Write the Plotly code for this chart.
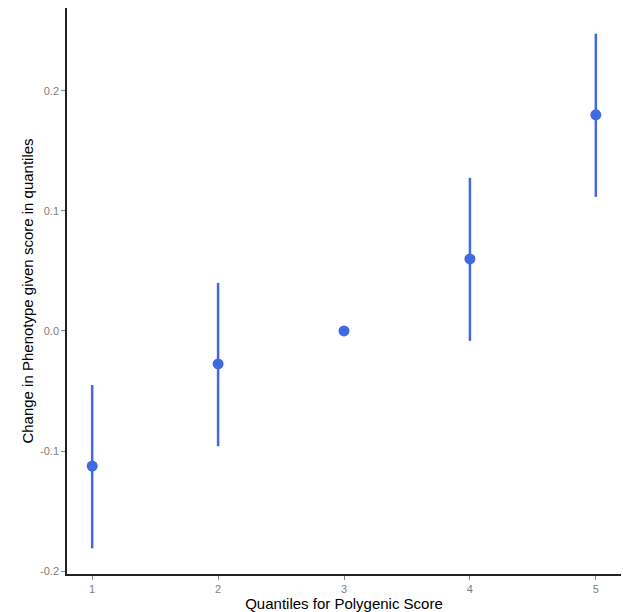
import plotly.graph_objects as go

# Quantile estimates with confidence limits
quantiles = [1, 2, 3, 4, 5]
estimate = [-0.1125, -0.0275, 0.0, 0.060, 0.180]
upper = [-0.045, 0.040, 0.0, 0.1275, 0.2475]
lower = [-0.181, -0.096, 0.0, -0.0083, 0.1117]

err_plus = [u - e for u, e in zip(upper, estimate)]
err_minus = [e - l for e, l in zip(estimate, lower)]

color = "#4169E1"

fig = go.Figure()
fig.add_trace(go.Scatter(
    x=quantiles, y=estimate, mode="markers",
    marker=dict(color=color, size=11),
    error_y=dict(type="data", symmetric=False, array=err_plus, arrayminus=err_minus,
                 color=color, thickness=2.5, width=0),
    showlegend=False,
))

ymin = min(lower); ymax = max(upper)
pad = (ymax - ymin) * 0.05

fig.update_layout(
    width=623, height=612,
    margin=dict(l=67, r=2, t=8, b=38),
    plot_bgcolor="white", paper_bgcolor="white",
    font=dict(family="Liberation Sans, Arial, sans-serif"),
    xaxis=dict(range=[0.8, 5.2], tickvals=quantiles, ticktext=[str(q) for q in quantiles],
               showgrid=False, zeroline=False, showline=True, linecolor="#222222", linewidth=1.5,
               ticks="outside", ticklen=4, tickcolor="#888888", tickwidth=1,
               tickfont=dict(size=11, color="#808080"),
               title=dict(text="Quantiles for Polygenic Score", font=dict(size=15, color="black"), standoff=4)),
    yaxis=dict(range=[ymin - pad, ymax + pad], tickvals=[-0.2, -0.1, 0.0, 0.1, 0.2],
               ticktext=["-0.2", "-0.1", "0.0", "0.1", "0.2"],
               showgrid=False, zeroline=False, showline=True, linecolor="#222222", linewidth=1.5,
               ticks="outside", ticklen=4, tickcolor="#888888", tickwidth=1,
               tickfont=dict(size=11, color="#808080"),
               title=dict(text="Change in Phenotype given score in quantiles", font=dict(size=15, color="black"), standoff=3)),
)

fig.write_html("out.html")
